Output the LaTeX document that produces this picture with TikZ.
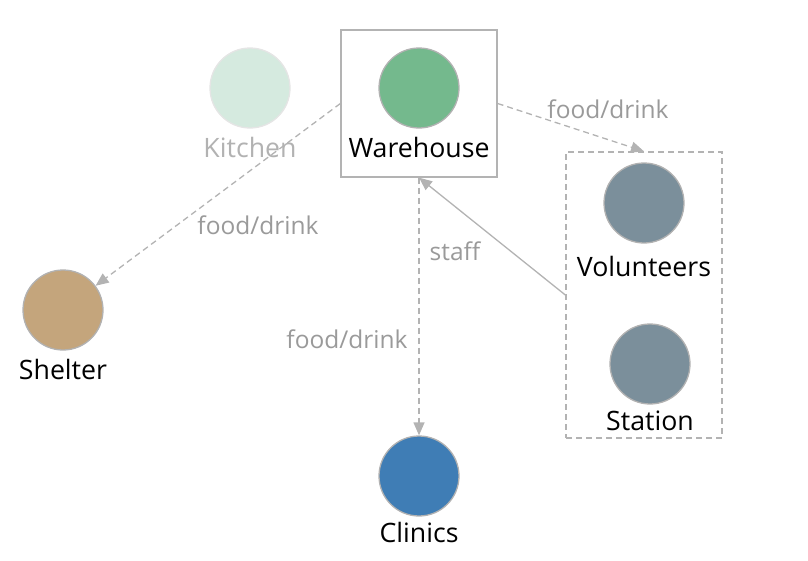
\documentclass[tikz,border=0pt]{standalone}
\usepackage{fontspec}
\setmainfont{Open Sans}
\usetikzlibrary{arrows.meta}
\definecolor{edgec}{HTML}{B3B3B3}
\definecolor{labc}{HTML}{9A9A9A}
\definecolor{kitc}{HTML}{D5EADF}
\definecolor{warec}{HTML}{74B98D}
\definecolor{shelc}{HTML}{C4A57C}
\definecolor{clinc}{HTML}{3F7DB5}
\definecolor{volc}{HTML}{7B8F9B}
\tikzset{
  every node/.style={font=\fontsize{23}{26}\selectfont},
  dot/.style={circle, minimum size=80pt, inner sep=0pt, line width=1.3pt, draw=black!30},
  nlab/.style={font=\fontsize{26.7}{30}\selectfont, text=black, inner sep=0pt},
  elab/.style={font=\fontsize{24.5}{28}\selectfont, text=labc, inner sep=0pt},
  flow/.style={draw=edgec, line width=1.3pt, dash pattern=on 6pt off 4pt, -{Triangle[length=13pt,width=11pt]}},
  solidflow/.style={draw=edgec, line width=1.3pt, -{Triangle[length=13pt,width=11pt]}},
  boxc/.style={rectangle, draw=edgec, line width=1.3pt, inner sep=0pt},
}
\begin{document}
\begin{tikzpicture}[x=1pt,y=-1pt]
\useasboundingbox (0,0) rectangle (808,560);
% boxes
\node[boxc, minimum width=156pt, minimum height=147pt] (wbox) at (419,103.5) {};
\node[boxc, dash pattern=on 6pt off 4pt, minimum width=156pt, minimum height=286pt] (grp) at (644,295) {};
% circles
\node[dot, fill=kitc, draw=black!10] (kitchen) at (250,88) {};
\node[nlab, text=black!30] (kitchenl) at (250,147) {Kitchen};
\node[dot, fill=warec] (warehouse) at (419,88) {};
\node[nlab] (warehousel) at (419,147) {Warehouse};
\node[dot, fill=shelc] (shelter) at (63,310) {};
\node[nlab] (shelterl) at (63,369) {Shelter};
\node[dot, fill=clinc] (clinics) at (419,476) {};
\node[nlab] (clinicsl) at (419,532) {Clinics};
\node[dot, fill=volc] (vol) at (644,203) {};
\node[nlab] (voll) at (644,266) {Volunteers};
\node[dot, fill=volc] (station) at (650,364) {};
\node[nlab] (stationl) at (650,421) {Station};
% edges
\draw[flow] (wbox.west) -- (shelter);
\draw[flow] (wbox.south) -- (clinics.north);
\draw[flow] (wbox.east) -- (grp.north);
\draw[solidflow] (grp.west) -- (wbox.south);
% edge labels
\node[elab] (l1) at (258,225) {food/drink};
\node[elab] (l2) at (347,339) {food/drink};
\node[elab] (l3) at (608,109) {food/drink};
\node[elab] (l4) at (455,251) {staff};
\end{tikzpicture}
\end{document}
